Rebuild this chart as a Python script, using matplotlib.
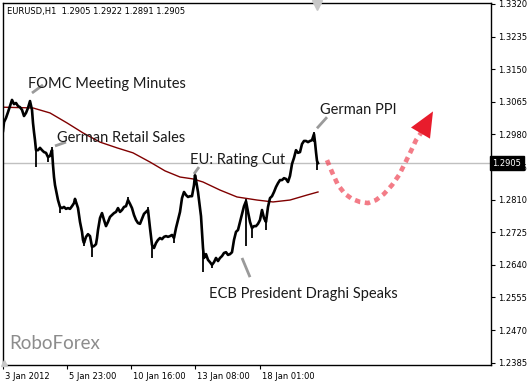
import matplotlib
matplotlib.use("Agg")
import matplotlib.pyplot as plt
import matplotlib.transforms as mtransforms
from matplotlib.patches import Polygon

# hourly EURUSD bars (bar index, close)
bars = [3, 4, 6, 8, 10, 12, 14, 16, 18, 20, 22, 24, 26, 28, 30, 32, 33, 34, 35, 36,
        38, 40, 42, 44, 46, 48, 50, 52, 53, 54, 55, 56, 58, 60, 62, 64, 66, 68, 70, 72,
        74, 75, 77, 78, 80, 82, 83, 84, 86, 88, 90, 92, 94, 96, 97, 98, 100, 102, 104, 106,
        108, 110, 112, 114, 116, 118, 120, 122, 124, 126, 128, 130, 132, 134, 136, 138, 140, 142, 144, 146,
        148, 150, 152, 154, 156, 158, 160, 162, 164, 166, 168, 170, 172, 174, 176, 178, 180, 182, 184, 186,
        188, 190, 192, 194, 195, 196, 198, 200, 201, 202, 203, 204, 206, 208, 210, 212, 214, 216, 218, 220,
        222, 224, 226, 228, 230, 232, 234, 236, 238, 240, 242, 244, 246, 248, 250, 252, 254, 256, 258, 260,
        262, 264, 266, 268, 270, 272, 274, 276, 278, 280, 282, 284, 286, 288, 290, 292, 294, 296, 298, 300,
        302, 304, 306, 308, 310, 312, 314, 315, 316, 317, 318]
closes = [1.2989, 1.3012, 1.3023, 1.3038, 1.3054, 1.3070, 1.3059, 1.3062, 1.3054, 1.3051, 1.3044, 1.3028, 1.3036, 1.3049, 1.3067, 1.3044, 1.3010, 1.2986, 1.2965, 1.2939,
          1.2939, 1.2945, 1.2939, 1.2934, 1.2932, 1.2921, 1.2924, 1.2939, 1.2900, 1.2869, 1.2848, 1.2835, 1.2809, 1.2791, 1.2788, 1.2791, 1.2786, 1.2788, 1.2786, 1.2793,
          1.2801, 1.2812, 1.2796, 1.2788, 1.2752, 1.2726, 1.2705, 1.2697, 1.2713, 1.2720, 1.2715, 1.2687, 1.2689, 1.2694, 1.2710, 1.2731, 1.2762, 1.2775, 1.2757, 1.2741,
          1.2752, 1.2765, 1.2770, 1.2775, 1.2778, 1.2788, 1.2778, 1.2783, 1.2791, 1.2793, 1.2809, 1.2799, 1.2788, 1.2770, 1.2757, 1.2749, 1.2747, 1.2760, 1.2773, 1.2778,
          1.2783, 1.2736, 1.2692, 1.2684, 1.2697, 1.2705, 1.2710, 1.2707, 1.2713, 1.2715, 1.2713, 1.2715, 1.2718, 1.2710, 1.2736, 1.2757, 1.2778, 1.2814, 1.2830, 1.2822,
          1.2817, 1.2819, 1.2819, 1.2848, 1.2874, 1.2861, 1.2830, 1.2788, 1.2767, 1.2726, 1.2684, 1.2658, 1.2668, 1.2653, 1.2647, 1.2640, 1.2647, 1.2658, 1.2650, 1.2658,
          1.2663, 1.2671, 1.2673, 1.2666, 1.2668, 1.2673, 1.2705, 1.2726, 1.2731, 1.2752, 1.2773, 1.2793, 1.2806, 1.2778, 1.2752, 1.2736, 1.2741, 1.2741, 1.2747, 1.2757,
          1.2783, 1.2762, 1.2752, 1.2791, 1.2814, 1.2819, 1.2830, 1.2843, 1.2853, 1.2861, 1.2861, 1.2866, 1.2864, 1.2856, 1.2872, 1.2903, 1.2919, 1.2939, 1.2932, 1.2934,
          1.2955, 1.2963, 1.2963, 1.2960, 1.2963, 1.2965, 1.2981, 1.2960, 1.2934, 1.2911, 1.2905]

# bars with long shadows (bar index, low, high)
spike_bars = [36, 48, 52, 60, 84, 92, 128, 148, 152, 174, 195, 203, 212, 246, 252, 266, 314, 317]
spike_low = [1.2895, 1.2908, 1.2921, 1.2775, 1.2689, 1.2660, 1.2809, 1.2783, 1.2658, 1.2697, 1.2861, 1.2621, 1.2632, 1.2689, 1.2710, 1.2731, 1.2960, 1.2887]
spike_high = [1.2939, 1.2924, 1.2947, 1.2791, 1.2697, 1.2687, 1.2817, 1.2791, 1.2692, 1.2710, 1.2882, 1.2684, 1.2640, 1.2812, 1.2736, 1.2752, 1.2986, 1.2911]

# moving average
ma_bars = [3, 33, 50, 67, 83, 100, 117, 133, 150, 165, 180, 193, 203, 220, 237, 257, 273, 290, 307, 318]
ma_vals = [1.3051, 1.3049, 1.3036, 1.3010, 1.2984, 1.2960, 1.2945, 1.2932, 1.2908, 1.2885,
           1.2869, 1.2864, 1.2856, 1.2835, 1.2817, 1.2809, 1.2804, 1.2809, 1.2822, 1.2830]

# forecast arrow path
fc_bars = [327, 332, 338, 345, 352, 360, 368, 376, 384, 392, 399, 405, 411, 416, 421]
fc_vals = [1.2913, 1.2882, 1.2848, 1.2825, 1.2812, 1.2804, 1.2801, 1.2809, 1.2825, 1.2848,
           1.2874, 1.2905, 1.2937, 1.2965, 1.2984]
head_bars = [411, 433, 430]
head_vals = [1.2998, 1.3040, 1.2969]

# event notes: text, text position, leader line
notes = [
    ("FOMC Meeting Minutes", 28, 1.3111, (32, 43), (1.3088, 1.3109)),
    ("German Retail Sales", 57, 1.2972, (55, 66), (1.2950, 1.2960)),
    ("EU: Rating Cut", 190, 1.2913, (194, 199), (1.2877, 1.2895)),
    ("German PPI", 320, 1.3044, (317, 327), (1.2996, 1.3025)),
    ("ECB President Draghi Speaks", 209, 1.2565, (242, 250), (1.2658, 1.2608)),
]

yticks = [1.3320, 1.3235, 1.3150, 1.3065, 1.2980, 1.2895, 1.2810, 1.2725, 1.2640, 1.2555, 1.2470, 1.2385]
xtick_bars = [3, 67, 131, 195, 260]
xtick_labels = ["3 Jan 2012", "5 Jan 23:00", "10 Jan 16:00", "13 Jan 08:00", "18 Jan 01:00"]
last_price = 1.2905

fig = plt.figure(figsize=(5.30, 3.83), dpi=100)
ax = fig.add_axes([2.5 / 530, 1 - 365 / 383, (491 - 2.5) / 530, (365 - 2.5) / 383])
ax.set_xlim(2.5, 491)
ax.set_ylim(1.2379, 1.33239)

ax.axhline(last_price, color="#c0c0c0", lw=1, zorder=1)
ax.plot(ma_bars, ma_vals, color="#800000", lw=1, zorder=2)
ax.plot(bars, closes, color="black", lw=1.9, zorder=3)
ax.vlines(spike_bars, spike_low, spike_high, color="black", lw=1.3, zorder=3)

ax.plot(fc_bars, fc_vals, color="#ee4455", alpha=0.7, lw=3.3,
        linestyle=(0, (1.2, 1.0)), dash_capstyle="butt", zorder=4)
ax.add_patch(Polygon(list(zip(head_bars, head_vals)), closed=True,
                     color="#e81c2c", lw=0, zorder=5))

for text, tx, ty, lx, ly in notes:
    ax.plot(lx, ly, color="#9a9a9a", lw=2, solid_capstyle="butt", zorder=4)
    ax.text(tx, ty, text, fontsize=10.5, family="Lato", color="#1a1a1a",
            va="center", ha="left", zorder=6)

ax.text(9, 1.2436, "RoboForex", fontsize=13.5, family="Lato", color="#8c8c8c",
        va="center", ha="left")
ax.text(0.01, 0.975, "EURUSD,H1  1.2905 1.2922 1.2891 1.2905", transform=ax.transAxes,
        fontsize=6, color="black", va="center", ha="left")

# shift markers
ax.plot([317], [1.3318], marker="v", ms=7, color="#c8c8c8", clip_on=False, zorder=6)
ax.plot([4], [1.2383], marker="^", ms=5, color="#c8c8c8", clip_on=False, zorder=6)

ax.yaxis.tick_right()
ax.set_yticks(yticks)
ax.set_yticklabels([f"{v:.4f}" for v in yticks])
ax.tick_params(axis="y", direction="out", length=3, width=0.8, pad=2, labelsize=6)
ax.set_xticks(xtick_bars)
ax.set_xticklabels(xtick_labels)
ax.tick_params(axis="x", direction="out", length=3, width=0.8, pad=2, labelsize=6)
offset = mtransforms.ScaledTranslation(2 / 100, 0, fig.dpi_scale_trans)
for lbl in ax.get_xticklabels():
    lbl.set_ha("left")
    lbl.set_transform(lbl.get_transform() + offset)

for sp in ax.spines.values():
    sp.set_color("black")
    sp.set_linewidth(1)

trans = mtransforms.blended_transform_factory(ax.transAxes, ax.transData)
ax.text(1.003, last_price, "1.2905", transform=trans, fontsize=6, color="white",
        va="center", ha="left", zorder=10, clip_on=False,
        bbox=dict(boxstyle="square,pad=0.3", fc="black", ec="black"))

fig.savefig("out.png", dpi=100)
